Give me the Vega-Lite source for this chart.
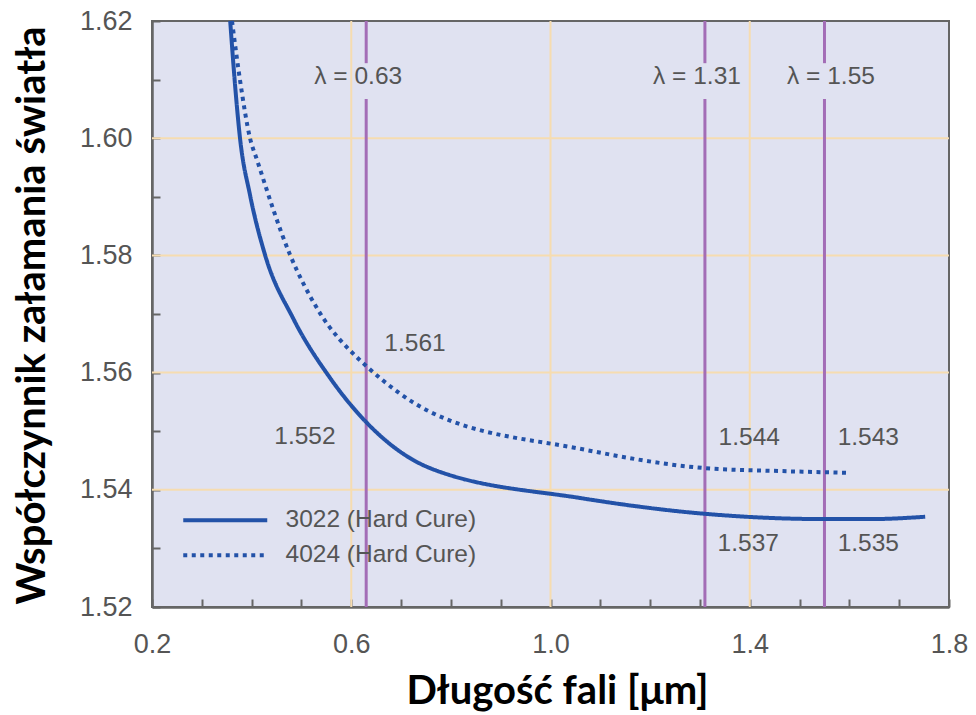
{
  "$schema": "https://vega.github.io/schema/vega-lite/v6.json",
  "width": 797,
  "height": 586,
  "autosize": {"type": "none"},
  "padding": {"left": 152, "top": 21, "right": 27, "bottom": 108},
  "background": "white",
  "config": {
    "view": {"stroke": "#666666", "strokeWidth": 2, "fill": "#e0e2f1"},
    "font": "Liberation Sans"
  },
  "layer": [
    {
      "data": {"values": [{"gx": 0.6}, {"gx": 1.0}, {"gx": 1.4}]},
      "mark": {"type": "rule", "color": "#f6dcb0", "strokeWidth": 2},
      "encoding": {
        "x": {
          "field": "gx", "type": "quantitative",
          "scale": {"domain": [0.2, 1.8], "nice": false, "zero": false},
          "axis": {
            "values": [0.2, 0.3, 0.4, 0.5, 0.6, 0.7, 0.8, 0.9, 1.0, 1.1, 1.2, 1.3, 1.4, 1.5, 1.6, 1.7, 1.8],
            "labelExpr": "round(datum.value*10) % 4 == 2 ? format(datum.value, '.1f') : ''",
            "grid": false,
            "tickSize": -8, "tickWidth": 2, "tickColor": "#666666",
            "domainColor": "#666666", "domainWidth": 2.5,
            "labelFont": "Liberation Sans", "labelFontSize": 27, "labelColor": "#555555", "labelPadding": 32,
            "labelFlush": false,
            "title": "Długość fali [μm]",
            "titleFont": "Lato", "titleFontWeight": "bold", "titleFontSize": 40,
            "titleColor": "#000000", "titleX": 405, "titleY": 84,
            "titleBaseline": "middle", "titleAlign": "center"
          }
        }
      }
    },
    {
      "data": {"values": [{"gy": 1.54}, {"gy": 1.56}, {"gy": 1.58}, {"gy": 1.60}]},
      "mark": {"type": "rule", "color": "#f6dcb0", "strokeWidth": 2},
      "encoding": {
        "y": {
          "field": "gy", "type": "quantitative",
          "scale": {"domain": [1.52, 1.62], "nice": false, "zero": false},
          "axis": {
            "values": [1.52, 1.525, 1.53, 1.535, 1.54, 1.545, 1.55, 1.555, 1.56, 1.565, 1.57, 1.575, 1.58, 1.585, 1.59, 1.595, 1.6, 1.605, 1.61, 1.615, 1.62],
            "labelExpr": "round(datum.value*1000) % 20 == 0 ? format(datum.value, '.2f') : ''",
            "grid": false,
            "tickSize": -8, "tickWidth": 2, "tickColor": "#666666",
            "domainColor": "#666666", "domainWidth": 2.5,
            "labelFont": "Liberation Sans", "labelFontSize": 27, "labelColor": "#555555", "labelPadding": 28,
            "labelFlush": false,
            "title": "Współczynnik załamania światła",
            "titleFont": "Lato", "titleFontWeight": "bold", "titleFontSize": 40,
            "titleColor": "#000000", "titleX": -120, "titleY": 294,
            "titleAngle": -90, "titleBaseline": "middle", "titleAlign": "center"
          }
        }
      }
    },
    {
      "data": {"values": [
        {"lam": 0.63, "ya": 1.52, "yb": 1.6067},
        {"lam": 0.63, "ya": 1.6128, "yb": 1.62},
        {"lam": 1.31, "ya": 1.52, "yb": 1.6067},
        {"lam": 1.31, "ya": 1.6128, "yb": 1.62},
        {"lam": 1.55, "ya": 1.52, "yb": 1.6067},
        {"lam": 1.55, "ya": 1.6128, "yb": 1.62}
      ]},
      "mark": {"type": "rule", "color": "#a36db6", "strokeWidth": 3},
      "encoding": {
        "x": {"field": "lam", "type": "quantitative"},
        "y": {"field": "ya", "type": "quantitative"},
        "y2": {"field": "yb"}
      }
    },
    {
      "data": {"values": [
        {"series": "3022 (Hard Cure)", "wl": 0.357, "n": 1.6200},
        {"series": "3022 (Hard Cure)", "wl": 0.3667, "n": 1.6091},
        {"series": "3022 (Hard Cure)", "wl": 0.3767, "n": 1.6000},
        {"series": "3022 (Hard Cure)", "wl": 0.3968, "n": 1.5903},
        {"series": "3022 (Hard Cure)", "wl": 0.4269, "n": 1.5801},
        {"series": "3022 (Hard Cure)", "wl": 0.4831, "n": 1.5693},
        {"series": "3022 (Hard Cure)", "wl": 0.5574, "n": 1.5591},
        {"series": "3022 (Hard Cure)", "wl": 0.6317, "n": 1.5514},
        {"series": "3022 (Hard Cure)", "wl": 0.7582, "n": 1.5437},
        {"series": "3022 (Hard Cure)", "wl": 1.0594, "n": 1.5386},
        {"series": "3022 (Hard Cure)", "wl": 1.3104, "n": 1.5359},
        {"series": "3022 (Hard Cure)", "wl": 1.5534, "n": 1.5350},
        {"series": "3022 (Hard Cure)", "wl": 1.6418, "n": 1.5350},
        {"series": "3022 (Hard Cure)", "wl": 1.7522, "n": 1.5354},
        {"series": "4024 (Hard Cure)", "wl": 0.3606, "n": 1.6200},
        {"series": "4024 (Hard Cure)", "wl": 0.3767, "n": 1.6099},
        {"series": "4024 (Hard Cure)", "wl": 0.3968, "n": 1.6000},
        {"series": "4024 (Hard Cure)", "wl": 0.4108, "n": 1.5963},
        {"series": "4024 (Hard Cure)", "wl": 0.4771, "n": 1.5801},
        {"series": "4024 (Hard Cure)", "wl": 0.5333, "n": 1.5707},
        {"series": "4024 (Hard Cure)", "wl": 0.6177, "n": 1.5621},
        {"series": "4024 (Hard Cure)", "wl": 0.6317, "n": 1.5610},
        {"series": "4024 (Hard Cure)", "wl": 0.7582, "n": 1.5533},
        {"series": "4024 (Hard Cure)", "wl": 1.0594, "n": 1.5470},
        {"series": "4024 (Hard Cure)", "wl": 1.3104, "n": 1.5437},
        {"series": "4024 (Hard Cure)", "wl": 1.4610, "n": 1.5432},
        {"series": "4024 (Hard Cure)", "wl": 1.6016, "n": 1.5429}
      ]},
      "mark": {"type": "line", "color": "#2352a8", "strokeWidth": 4, "interpolate": "monotone"},
      "encoding": {
        "x": {"field": "wl", "type": "quantitative"},
        "y": {"field": "n", "type": "quantitative"},
        "strokeDash": {
          "field": "series", "type": "nominal",
          "scale": {"domain": ["3022 (Hard Cure)", "4024 (Hard Cure)"], "range": [[1, 0], [4, 4.5]]},
          "legend": {
            "orient": "none", "legendX": 61, "legendY": 487, "title": null,
            "symbolType": "M-42,0H42", "symbolSize": 4, "symbolStrokeWidth": 4,
            "symbolStrokeColor": "#2352a8",
            "labelFont": "Liberation Sans", "labelFontSize": 24.5, "labelColor": "#555555",
            "labelOffset": 48, "labelLimit": 0,
            "rowPadding": 10, "padding": 0
          }
        }
      }
    },
    {
      "data": {"values": [
        {"tx": 0.614, "ty": 1.6104, "label": "λ = 0.63"},
        {"tx": 1.294, "ty": 1.6104, "label": "λ = 1.31"},
        {"tx": 1.563, "ty": 1.6104, "label": "λ = 1.55"},
        {"tx": 0.728, "ty": 1.5648, "label": "1.561"},
        {"tx": 0.507, "ty": 1.5490, "label": "1.552"},
        {"tx": 1.399, "ty": 1.5489, "label": "1.544"},
        {"tx": 1.638, "ty": 1.5489, "label": "1.543"},
        {"tx": 1.397, "ty": 1.5307, "label": "1.537"},
        {"tx": 1.638, "ty": 1.5307, "label": "1.535"}
      ]},
      "mark": {"type": "text", "font": "Liberation Sans", "fontSize": 24.5, "color": "#555555", "align": "center", "baseline": "middle"},
      "encoding": {
        "x": {"field": "tx", "type": "quantitative"},
        "y": {"field": "ty", "type": "quantitative"},
        "text": {"field": "label"}
      }
    }
  ]
}
